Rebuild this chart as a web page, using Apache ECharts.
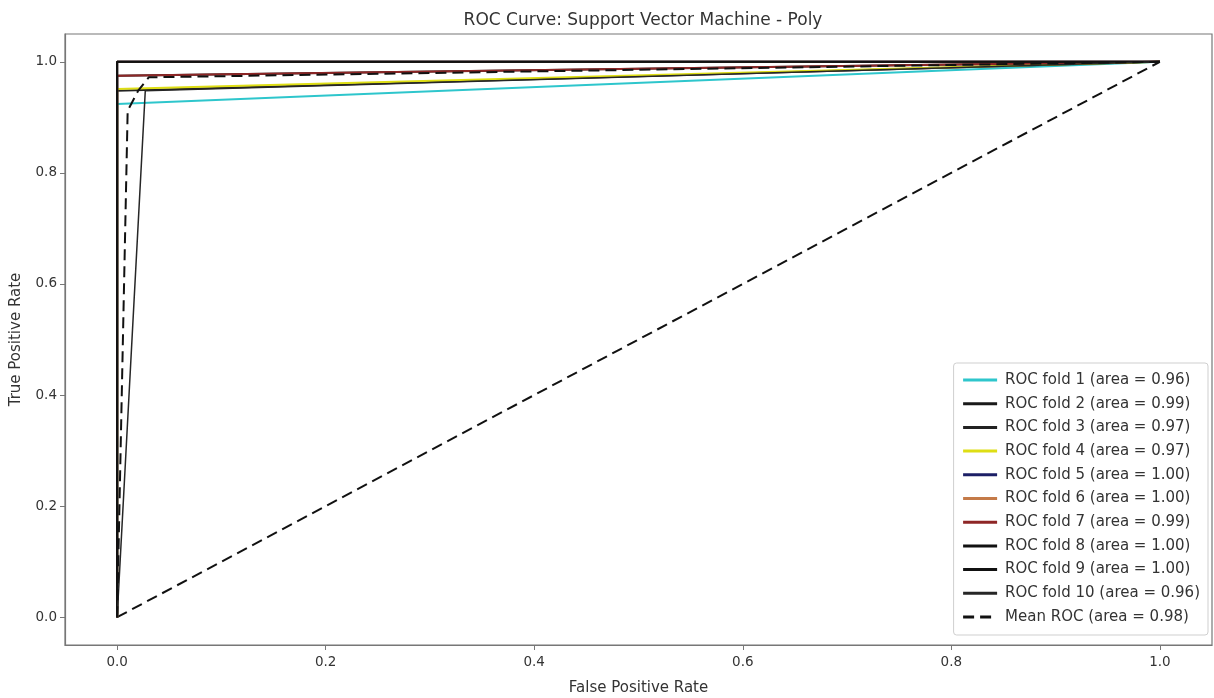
<!DOCTYPE html>
<html>
<head>
<meta charset="utf-8">
<title>ROC Curve: Support Vector Machine - Poly</title>
<script src="https://cdn.jsdelivr.net/npm/echarts@6/dist/echarts.min.js"></script>
<style>
  html, body { margin: 0; padding: 0; background: #fff; }
  #chart { width: 1214px; height: 698px; }
</style>
</head>
<body>
<div id="chart"></div>
<script>
  // ROC points, [fpr, tpr]
  var fold1 = [[0, 0], [0, 0.924], [1, 1]];
  var fold2 = [[0, 0], [0, 0.975], [1, 1]];
  var fold3 = [[0, 0], [0, 0.948], [1, 1]];
  var fold4 = [[0, 0], [0, 0.951], [1, 1]];
  var fold5 = [[0, 0], [0, 1], [1, 1]];
  var fold6 = [[0, 0], [0, 1], [1, 1]];
  var fold7 = [[0, 0], [0, 0.975], [1, 1]];
  var fold8 = [[0, 0], [0, 1], [1, 1]];
  var fold9 = [[0, 0], [0, 1], [1, 1]];
  var fold10 = [[0, 0], [0.027, 0.948], [1, 1]];
  var meanRoc = [[0, 0], [0.0101, 0.912], [0.0202, 0.948], [0.0303, 0.972], [1, 1]];
  var chance = [[0, 0], [1, 1]];

  var foldNames = [
    'ROC fold 1 (area = 0.96)', 'ROC fold 2 (area = 0.99)', 'ROC fold 3 (area = 0.97)',
    'ROC fold 4 (area = 0.97)', 'ROC fold 5 (area = 1.00)', 'ROC fold 6 (area = 1.00)',
    'ROC fold 7 (area = 0.99)', 'ROC fold 8 (area = 1.00)', 'ROC fold 9 (area = 1.00)',
    'ROC fold 10 (area = 0.96)'
  ];
  var meanName = 'Mean ROC (area = 0.98)';
  var tickValues = [0, 0.2, 0.4, 0.6, 0.8, 1.0];

  var foldData = [fold1, fold2, fold3, fold4, fold5, fold6, fold7, fold8, fold9, fold10];
  var foldColors = ['#2ec6cc', '#1a1a1a', '#222222', '#dede14', '#1c1f66',
                    '#c47a48', '#8e2626', '#111111', '#111111', '#262626'];
  var foldWidths = [2, 2, 2, 2, 2, 2, 2, 2, 2, 1.5];

  var font = 'DejaVu Sans';

  var series = [];
  series.push({
    name: 'chance',
    type: 'line',
    data: chance,
    symbol: 'none',
    silent: true,
    lineStyle: { color: '#111', width: 2, type: [11, 6] }
  });
  for (var i = 0; i < foldData.length; i++) {
    series.push({
      name: foldNames[i],
      type: 'line',
      data: foldData[i],
      symbol: 'none',
      lineStyle: { color: foldColors[i], width: foldWidths[i] },
      itemStyle: { color: foldColors[i] }
    });
  }
  series.push({
    name: meanName,
    type: 'line',
    data: meanRoc,
    symbol: 'none',
    lineStyle: { color: '#111', width: 2, type: [11, 6] },
    itemStyle: { color: '#111' }
  });

  var myChart = echarts.init(document.getElementById('chart'));

  myChart.setOption({
    animation: false,
    textStyle: { fontFamily: font },
    title: {
      text: 'ROC Curve: Support Vector Machine - Poly',
      left: 638,
      textAlign: 'center',
      top: 7,
      textStyle: { fontFamily: font, fontSize: 17, fontWeight: 'normal', color: '#333' }
    },
    grid: {
      left: 65, right: 2, top: 34, bottom: 53,
      outerBoundsMode: 'none',
      containLabel: false,
      show: true, borderColor: '#777', borderWidth: 1.2, backgroundColor: '#fff'
    },
    legend: {
      data: foldNames.concat([meanName]),
      orient: 'vertical',
      right: 6,
      bottom: 63,
      itemWidth: 34,
      itemHeight: 16,
      itemGap: 7.7,
      padding: [9, 8, 10, 8],
      backgroundColor: '#fff',
      borderColor: '#cfcfcf',
      borderWidth: 1,
      borderRadius: 3,
      itemStyle: { opacity: 0 },
      lineStyle: { width: 3 },
      textStyle: { fontFamily: font, fontSize: 15, lineHeight: 16, color: '#333', padding: [0, 0, 0, 3] }
    },
    xAxis: {
      type: 'value',
      min: -0.05,
      max: 1.05,
      name: 'False Positive Rate',
      nameLocation: 'middle',
      nameGap: 36,
      nameTextStyle: { fontFamily: font, fontSize: 15, color: '#333' },
      axisLine: { show: true, onZero: false, lineStyle: { color: '#777', width: 1.2 } },
      axisTick: { show: true, length: 5, customValues: tickValues, lineStyle: { color: '#777' } },
      axisLabel: {
        customValues: tickValues,
        margin: 10,
        fontSize: 13.5,
        color: '#333',
        formatter: function (v) { return v.toFixed(1); }
      },
      splitLine: { show: false }
    },
    yAxis: {
      type: 'value',
      min: -0.05,
      max: 1.05,
      name: 'True Positive Rate',
      nameLocation: 'middle',
      nameGap: 41,
      nameTextStyle: { fontFamily: font, fontSize: 15, color: '#333' },
      axisLine: { show: true, onZero: false, lineStyle: { color: '#777', width: 1.2 } },
      axisTick: { show: true, length: 5, customValues: tickValues, lineStyle: { color: '#777' } },
      axisLabel: {
        customValues: tickValues,
        margin: 8,
        fontSize: 13.5,
        color: '#333',
        formatter: function (v) { return v.toFixed(1); }
      },
      splitLine: { show: false }
    },
    series: series
  });
</script>
</body>
</html>
